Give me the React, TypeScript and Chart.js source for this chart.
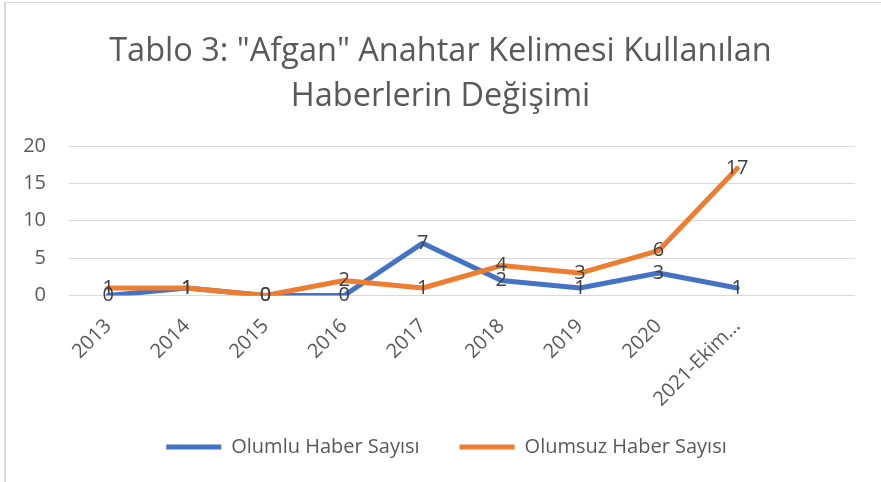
import React, { useEffect, useRef } from "react";
import { Chart, registerables } from "chart.js";

Chart.register(...registerables);

const titleLines = ['Tablo 3: "Afgan" Anahtar Kelimesi Kullanılan', "Haberlerin Değişimi"];
const categories = ["2013", "2014", "2015", "2016", "2017", "2018", "2019", "2020", "2021-Ekim...", ""];
const olumluLabel = "Olumlu Haber Sayısı";
const olumsuzLabel = "Olumsuz Haber Sayısı";
const olumlu = [0, 1, 0, 0, 7, 2, 1, 3, 1, null];
const olumsuz = [1, 1, 0, 2, 1, 4, 3, 6, 17, null];
const yTicks = [0, 5, 10, 15, 20];

const FONT = "'Open Sans', 'Noto Sans', sans-serif";

const dataLabelPlugin = {
  id: "dataLabels",
  afterDatasetsDraw(chart: any) {
    const ctx = chart.ctx;
    ctx.save();
    ctx.font = `20px ${FONT}`;
    ctx.fillStyle = "#404040";
    ctx.textAlign = "center";
    ctx.textBaseline = "middle";
    chart.data.datasets.forEach((ds: any, i: number) => {
      const meta = chart.getDatasetMeta(i);
      meta.data.forEach((pt: any, j: number) => {
        const v = ds.data[j];
        if (v === null || v === undefined) return;
        ctx.fillText(String(v), pt.x, pt.y);
      });
    });
    ctx.restore();
  },
};

const legendShiftPlugin = {
  id: "legendShift",
  afterLayout(chart: any) {
    if (chart.legend) {
      chart.legend.left += 6;
      chart.legend.right += 6;
    }
  },
};

export default function App() {
  const ref = useRef<HTMLCanvasElement>(null);
  useEffect(() => {
    if (!ref.current) return;
    const chart = new Chart(ref.current, {
      type: "line",
      data: {
        labels: categories,
        datasets: [
          {
            label: olumluLabel,
            data: olumlu,
            borderColor: "#4472C4",
            backgroundColor: "#4472C4",
            borderWidth: 5,
            borderCapStyle: "round",
            borderJoinStyle: "round",
            pointRadius: 0,
            tension: 0,
            order: 1,
            yAxisID: "y",
          },
          {
            label: olumsuzLabel,
            data: olumsuz,
            borderColor: "#ED7D31",
            backgroundColor: "#ED7D31",
            borderWidth: 5,
            borderCapStyle: "round",
            borderJoinStyle: "round",
            pointRadius: 0,
            tension: 0,
            order: 0,
            yAxisID: "y",
          },
        ],
      },
      options: {
        animation: false,
        responsive: false,
        maintainAspectRatio: false,
        layout: { padding: { left: 0, right: 0, top: 0, bottom: 15 } },
        plugins: {
          tooltip: { enabled: false },
          title: {
            display: true,
            text: titleLines,
            color: "#595959",
            font: { family: FONT, size: 32.5, weight: "normal", lineHeight: "45px" },
            padding: { top: 29, bottom: 27 },
          },
          legend: {
            position: "bottom",
            labels: {
              usePointStyle: true,
              pointStyle: "line",
              pointStyleWidth: 55,
              color: "#595959",
              font: { family: FONT, size: 20 },
              padding: 40,
              sort: (a: any, b: any) => a.datasetIndex - b.datasetIndex,
            },
          },
        },
        scales: {
          x: {
            offset: true,
            grid: { display: false, drawTicks: false },
            border: { display: false },
            ticks: {
              color: "#595959",
              font: { family: FONT, size: 20 },
              maxRotation: 45,
              minRotation: 45,
              autoSkip: false,
              padding: 19,
            },
            afterFit: (s: any) => {
              s.height = 101.5;
              s._computeLabelArea = () => undefined;
            },
          },
          y: {
            position: "left",
            min: 0,
            max: 20,
            afterBuildTicks: (s: any) => {
              s.ticks = yTicks.map((v) => ({ value: v }));
            },
            grid: { color: "#D9D9D9", lineWidth: 1, drawTicks: false },
            border: { display: false },
            ticks: {
              color: "#595959",
              font: { family: FONT, size: 20 },
              padding: 23,
            },
            afterFit: (s: any) => {
              s.width = 69;
            },
          },
          yRightSpace: {
            position: "right",
            display: true,
            min: 0,
            max: 20,
            grid: { display: false, drawTicks: false },
            border: { display: false },
            ticks: { display: false },
            afterFit: (s: any) => {
              s.width = 26;
            },
          },
        },
      },
      plugins: [dataLabelPlugin, legendShiftPlugin],
    } as any);
    return () => chart.destroy();
  }, []);
  return (
    <div style={{ position: "absolute", left: 0, top: 0, width: 881, height: 482, background: "#fff", overflow: "hidden" }}>
      <div
        style={{
          position: "absolute",
          left: 4,
          top: 2,
          width: 900,
          height: 500,
          borderLeft: "2px solid #D9D9D9",
          borderTop: "1px solid #D9D9D9",
        }}
      />
      <canvas ref={ref} width={881} height={482} style={{ position: "absolute", left: 0, top: 0 }} />
    </div>
  );
}
